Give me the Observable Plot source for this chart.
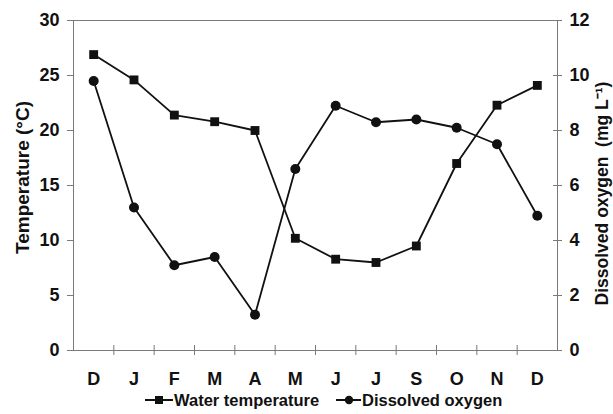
<!DOCTYPE html>
<html>
<head>
<meta charset="utf-8">
<script src="https://cdn.jsdelivr.net/npm/d3@7"></script>
<script src="https://cdn.jsdelivr.net/npm/@observablehq/plot@0.6"></script>
<style>
  html, body { margin: 0; padding: 0; background: #fff; }
  body { width: 613px; height: 414px; overflow: hidden; font-family: "Liberation Sans", Arial, sans-serif; }
  #legend { position: relative; height: 20px; width: 613px; font-weight: bold; font-size: 16.5px; color: #111; }
  .item { position: absolute; top: -5px; display: flex; align-items: center; height: 22px; white-space: nowrap; }
  .item svg { margin-right: 1px; }
</style>
</head>
<body>
<div id="chart"></div>
<div id="legend"></div>
<script>
// ---- data ----
const months = ["D", "J", "F", "M", "A", "M", "J", "J", "S", "O", "N", "D"];
const waterTemp = [26.9, 24.6, 21.4, 20.8, 20.0, 10.2, 8.3, 8.0, 9.5, 17.0, 22.3, 24.1];      // °C
const dissolvedOxygen = [9.8, 5.2, 3.1, 3.4, 1.3, 6.6, 8.9, 8.3, 8.4, 8.1, 7.5, 4.9];        // mg L-1
const tempTicks = [0, 5, 10, 15, 20, 25, 30];
const oxygenTicks = [0, 2, 4, 6, 8, 10, 12];
const seriesNames = ["Water temperature", "Dissolved oxygen"];
const leftTitle = "Temperature (°C)";
const rightTitle = "Dissolved oxygen  (mg L⁻¹)";

// oxygen drawn on the temperature scale (12 mg/L ↔ 30 °C)
const ratio = tempTicks[tempTicks.length - 1] / oxygenTicks[oxygenTicks.length - 1];

const tempData = months.map((m, i) => ({i: i + 0.5, v: waterTemp[i]}));
const oxyData = months.map((m, i) => ({i: i + 0.5, v: dissolvedOxygen[i] * ratio}));
const centers = months.map((m, i) => i + 0.5);
const bounds = d3.range(1, months.length);

const axisColor = "#7a7a7a";

const chart = Plot.plot({
  width: 613,
  height: 394,
  marginLeft: 73,
  marginRight: 56,
  marginTop: 20,
  marginBottom: 44,
  style: {fontFamily: "'Liberation Sans', Arial, sans-serif", fontSize: "18px", fontWeight: "bold", color: "#111", background: "#fff", overflow: "visible"},
  x: {domain: [0, months.length]},
  y: {domain: [0, 30]},
  marks: [
    Plot.frame({stroke: axisColor, strokeWidth: 1}),
    Plot.axisY({anchor: "left", ticks: tempTicks, tickSize: 6, tickPadding: 8, stroke: axisColor, label: null, fill: "#111"}),
    Plot.axisY({anchor: "right", ticks: oxygenTicks.map(d => d * ratio), tickFormat: d => String(Math.round(d / ratio)), tickSize: 4, tickPadding: 8, stroke: axisColor, label: null, fill: "#111"}),
    Plot.ruleY(oxygenTicks.map(d => d * ratio), {y: d => d, x1: months.length, x2: months.length, insetLeft: -4, insetRight: 0, stroke: axisColor}),
    Plot.axisX({anchor: "bottom", ticks: centers, tickFormat: d => months[Math.floor(d)], tickSize: 0, tickPadding: 22, label: null, fill: "#111"}),
    Plot.ruleX(bounds, {x: d => d, y1: 0, y2: 0, insetTop: -5, insetBottom: -5, stroke: axisColor}),
    Plot.text([leftTitle], {text: d => d, frameAnchor: "left", textAnchor: "middle", dx: -51, dy: -8, rotate: -90, fontSize: 19, fontWeight: "bold", fill: "#111"}),
    Plot.text([rightTitle], {text: d => d, frameAnchor: "right", textAnchor: "middle", dx: 45, dy: 8, rotate: -90, fontSize: 17.5, fontWeight: "bold", fill: "#111"}),
    Plot.line(tempData, {x: "i", y: "v", stroke: "#111", strokeWidth: 1.8}),
    Plot.line(oxyData, {x: "i", y: "v", stroke: "#111", strokeWidth: 1.8}),
    Plot.dot(tempData, {x: "i", y: "v", symbol: "square", r: 5, fill: "#111", stroke: null}),
    Plot.dot(oxyData, {x: "i", y: "v", symbol: "circle", r: 5, fill: "#111", stroke: null})
  ]
});
document.getElementById("chart").appendChild(chart);

// legend
const legend = document.getElementById("legend");
const symbols = ["square", "circle"];
const lefts = [145, 336];
seriesNames.forEach((name, k) => {
  const item = document.createElement("div");
  item.className = "item";
  item.style.left = lefts[k] + "px";
  const marker = symbols[k] === "square"
    ? '<rect x="10" y="7" width="8" height="8" fill="#111"/>'
    : '<circle cx="13" cy="11" r="4.2" fill="#111"/>';
  const w = symbols[k] === "square" ? 28 : 25;
  item.innerHTML = `<svg width="${w}" height="22"><line x1="0" x2="${w}" y1="11" y2="11" stroke="#111" stroke-width="2"/>${marker}</svg><span>${name}</span>`;
  legend.appendChild(item);
});
</script>
</body>
</html>
